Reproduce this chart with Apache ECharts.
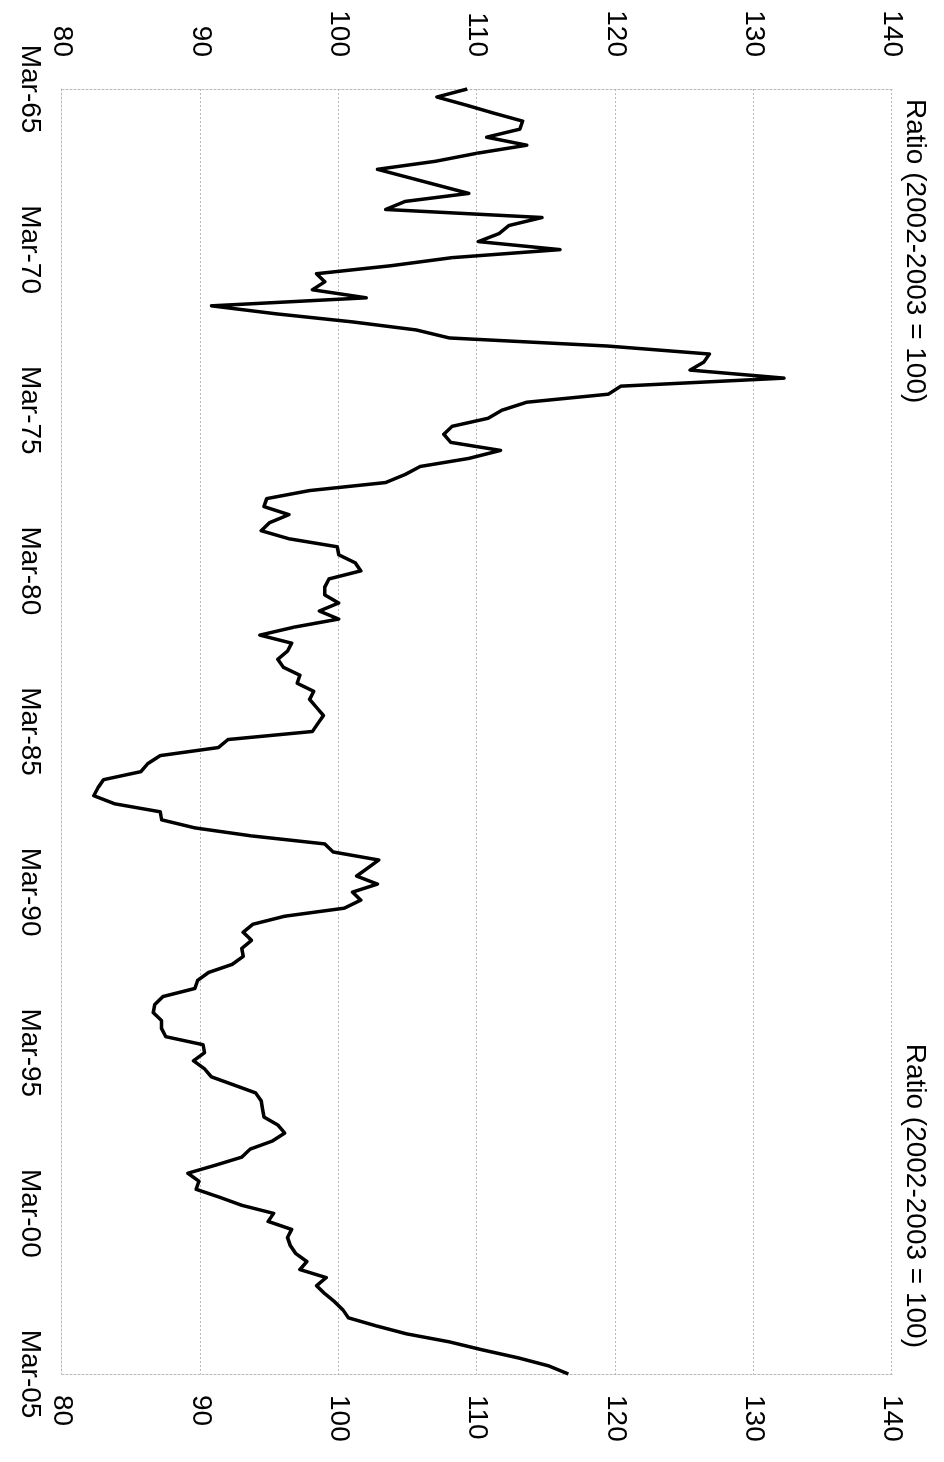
<!DOCTYPE html>
<html>
<head>
<meta charset="utf-8">
<script src="https://cdn.jsdelivr.net/npm/echarts@6/dist/echarts.min.js"></script>
<style>
    html, body { margin: 0; padding: 0; background: #fff; overflow: hidden; }
    /* the chart is drawn landscape and turned a quarter clockwise */
    #main {
        position: absolute; left: 0; top: 0;
        width: 1462px; height: 944px;
        transform-origin: 0 0;
        transform: translate(944px, 0) rotate(90deg);
    }
</style>
</head>
<body>
<div id="main"></div>
<script>
    // quarterly ratio, Mar-65 .. Mar-05
    var ratio = [
        109.3, 107.1, 109.2, 111.2, 113.3, 113.1, 110.7, 113.6, 110.0, 107.0,
        102.8, 105.0, 107.2, 109.4, 104.8, 103.4, 114.7, 112.3, 111.6, 110.1,
        116.0, 108.2, 103.8, 98.4, 99.0, 98.1, 102.0, 90.8, 95.5, 101.0,
        105.6, 108.0, 119.4, 126.8, 126.4, 125.4, 132.2, 120.4, 119.5, 113.6,
        111.8, 110.8, 108.2, 107.6, 108.1, 111.7, 109.4, 105.9, 104.8, 103.4,
        97.9, 94.8, 94.6, 96.4, 95.0, 94.4, 96.4, 99.9, 100.0, 101.2,
        101.6, 99.3, 99.0, 99.0, 100.0, 98.6, 100.0, 96.8, 94.3, 96.6,
        96.3, 95.6, 96.0, 97.2, 97.0, 98.2, 97.9, 98.4, 98.9, 98.5,
        98.1, 92.0, 91.3, 87.1, 86.2, 85.7, 83.0, 82.6, 82.3, 83.8,
        87.1, 87.2, 89.6, 93.7, 99.0, 99.6, 102.9, 102.1, 101.3, 102.8,
        101.0, 101.6, 100.4, 96.1, 93.8, 93.1, 93.7, 93.0, 93.1, 92.3,
        90.6, 89.8, 89.6, 87.3, 86.7, 86.6, 87.2, 87.2, 87.5, 90.2,
        90.3, 89.5, 90.3, 90.8, 92.4, 94.0, 94.4, 94.5, 94.6, 95.6,
        96.1, 95.2, 93.6, 93.0, 91.1, 89.1, 89.9, 89.7, 91.4, 93.0,
        95.3, 94.9, 96.6, 96.3, 96.5, 96.9, 97.7, 97.2, 99.1, 98.4,
        99.0, 99.7, 100.3, 100.7, 102.7, 104.9, 108.0, 110.4, 113.0, 115.2,
        116.6
    ];

    var months = ['Mar', 'Jun', 'Sep', 'Dec'];
    var firstYear = 1965;
    var axisName = 'Ratio (2002-2003 = 100)';
    var valueMin = 80, valueMax = 140, valueStep = 10;

    // category labels like "Mar-65"
    var quarters = ratio.map(function (v, i) {
        var y = firstYear + Math.floor(i / 4);
        return months[i % 4] + '-' + String(y % 100).padStart(2, '0');
    });

    var font = 'Liberation Sans, Arial, sans-serif';
    var gridLine = { color: '#b8b8b8', width: 1, type: [2, 2] };

    var myChart = echarts.init(document.getElementById('main'));

    var option = {
        backgroundColor: '#fff',
        animation: false,
        title: [
            { text: axisName, left: 94, top: 10,
              textStyle: { fontFamily: font, fontSize: 28, fontWeight: 'normal', color: '#000' } },
            { text: axisName, right: 109, top: 10,
              textStyle: { fontFamily: font, fontSize: 28, fontWeight: 'normal', color: '#000' } }
        ],
        grid: { left: 89, right: 88, top: 52, bottom: 62 },
        xAxis: {
            type: 'category',
            data: quarters,
            boundaryGap: false,
            axisLine: { lineStyle: gridLine },
            axisTick: { show: false },
            axisLabel: { interval: 19, margin: 18, fontFamily: font, fontSize: 28, color: '#000' },
            splitLine: { show: false }
        },
        yAxis: [
            {
                type: 'value', min: valueMin, max: valueMax, interval: valueStep,
                axisLine: { show: true, lineStyle: gridLine },
                axisTick: { show: false },
                axisLabel: { margin: 32, fontFamily: font, fontSize: 28, color: '#000' },
                splitLine: { lineStyle: gridLine }
            },
            {
                type: 'value', min: valueMin, max: valueMax, interval: valueStep,
                position: 'right',
                axisLine: { show: true, lineStyle: gridLine },
                axisTick: { show: false },
                axisLabel: { margin: 21, fontFamily: font, fontSize: 28, color: '#000' },
                splitLine: { show: false }
            }
        ],
        series: [{
            type: 'line',
            data: ratio,
            symbol: 'none',
            lineStyle: { color: '#000', width: 3.5, join: 'round' }
        }]
    };

    myChart.setOption(option);
</script>
</body>
</html>
